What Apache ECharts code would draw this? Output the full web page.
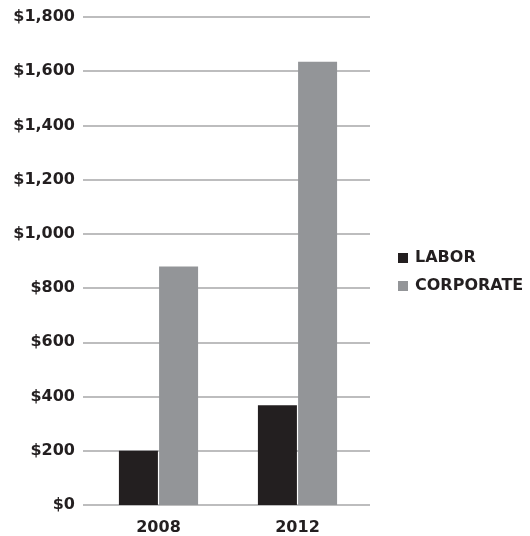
<!DOCTYPE html>
<html>
<head>
<meta charset="utf-8">
<script src="https://cdn.jsdelivr.net/npm/echarts@6/dist/echarts.min.js"></script>
<style>html,body{margin:0;padding:0;background:#fff;}#c{width:530px;height:536px;}</style>
</head>
<body>
<div id="c"></div>
<script>
var categories = ['2008', '2012'];
var labor = [200, 368];
var corporate = [880, 1635];
var yTicks = [0, 200, 400, 600, 800, 1000, 1200, 1400, 1600, 1800];

var FONT = '"DejaVu Sans", sans-serif';
var TXT = {fontFamily: FONT, fontWeight: 'bold', fontSize: 16, color: '#231f20'};
var chart = echarts.init(document.getElementById('c'), null, {renderer: 'canvas'});
chart.setOption({
  animation: false,
  backgroundColor: '#ffffff',
  grid: [
    {left: 83, right: 160, top: 17, bottom: 31},
    {left: 89, right: 163, top: 17, bottom: 31}
  ],
  legend: {
    orient: 'vertical', left: 393, top: 245,
    icon: 'rect', itemWidth: 10, itemHeight: 10, itemGap: 12,
    textStyle: Object.assign({}, TXT, {padding: [0, 0, 0, 2]}),
    data: ['LABOR', 'CORPORATE']
  },
  xAxis: [
    {type: 'category', gridIndex: 0, data: categories, show: false},
    {
      type: 'category', gridIndex: 1, data: categories,
      axisLine: {show: false}, axisTick: {show: false},
      axisLabel: Object.assign({}, TXT, {margin: 15})
    }
  ],
  yAxis: [
    {
      type: 'value', gridIndex: 0, min: yTicks[0], max: yTicks[yTicks.length - 1], interval: 200,
      axisLine: {show: false}, axisTick: {show: false},
      splitLine: {lineStyle: {color: '#a7a7a9', width: 1.5}},
      axisLabel: Object.assign({}, TXT, {
        margin: 8,
        formatter: function (v) { return '$' + v.toLocaleString('en-US'); }
      })
    },
    {
      type: 'value', gridIndex: 1, min: yTicks[0], max: yTicks[yTicks.length - 1], interval: 200,
      show: false, splitLine: {show: false}
    }
  ],
  series: [
    {name: 'LABOR', type: 'bar', xAxisIndex: 1, yAxisIndex: 1, data: labor, barWidth: 39, barGap: '3%', itemStyle: {color: '#231f20'}},
    {name: 'CORPORATE', type: 'bar', xAxisIndex: 1, yAxisIndex: 1, data: corporate, barWidth: 39, itemStyle: {color: '#939598'}}
  ]
});
</script>
</body>
</html>
